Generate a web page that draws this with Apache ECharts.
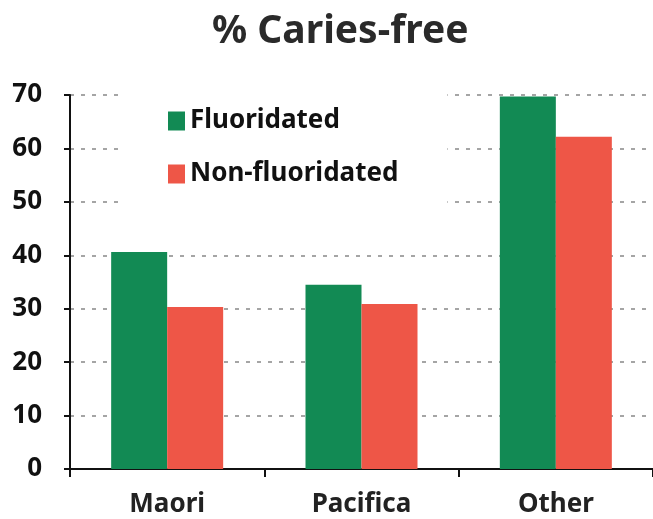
<!DOCTYPE html>
<html>
<head>
<meta charset="utf-8">
<script src="https://cdn.jsdelivr.net/npm/echarts@6/dist/echarts.min.js"></script>
<style>
  html, body { margin: 0; padding: 0; background: #fff; }
  #chart { width: 653px; height: 519px; }
</style>
</head>
<body>
<div id="chart"></div>
<script>
// 数据
var categories = ['Maori', 'Pacifica', 'Other'];
var fluoridated = [40.6, 34.5, 69.7];
var nonFluoridated = [30.3, 30.9, 62.2];
var yTicks = [0, 10, 20, 30, 40, 50, 60, 70];

var myChart = echarts.init(document.getElementById('chart'));
myChart.setOption({
    animation: false,
    title: {
        text: '% Caries-free',
        left: 207,
        top: 7,
        textStyle: {
            color: '#2a2a2a',
            fontSize: 39,
            fontWeight: 'bold',
            fontFamily: 'Noto Sans'
        }
    },
    legend: {
        orient: 'vertical',
        left: 118,
        top: 86,
        icon: 'rect',
        itemWidth: 17,
        itemHeight: 19,
        itemGap: 27,
        padding: [22, 49, 27, 50],
        backgroundColor: '#fff',
        textStyle: {
            color: '#111',
            fontSize: 26,
            fontWeight: 'bold',
            fontFamily: 'Noto Sans'
        },
        data: ['Fluoridated', 'Non-fluoridated']
    },
    grid: {
        left: 70,
        right: -2,
        top: 95,
        bottom: 50,
        containLabel: false
    },
    xAxis: {
        type: 'category',
        data: categories,
        axisLine: { lineStyle: { color: '#111', width: 2 } },
        axisTick: { show: true, length: 8, lineStyle: { color: '#111', width: 2 } },
        axisLabel: {
            margin: 23,
            color: '#222',
            fontSize: 26,
            fontWeight: 'bold',
            fontFamily: 'Noto Sans'
        }
    },
    yAxis: {
        type: 'value',
        min: 0,
        max: 70,
        interval: 10,
        axisLine: { show: true, lineStyle: { color: '#111', width: 2 } },
        axisTick: { show: true, length: 6, lineStyle: { color: '#111', width: 2 } },
        axisLabel: {
            margin: 28,
            color: '#111',
            fontSize: 26,
            fontWeight: 'bold',
            fontFamily: 'Noto Sans',
            formatter: function (v) { return yTicks.indexOf(v) >= 0 ? String(v) : ''; }
        },
        splitLine: {
            show: true,
            lineStyle: { color: '#888', width: 1.5, type: [4, 7] }
        }
    },
    series: [
        {
            name: 'Fluoridated',
            type: 'bar',
            barWidth: 56,
            barGap: 0,
            itemStyle: { color: '#128a54' },
            data: fluoridated
        },
        {
            name: 'Non-fluoridated',
            type: 'bar',
            barWidth: 56,
            barGap: 0,
            itemStyle: { color: '#ee5647' },
            data: nonFluoridated
        }
    ]
});
</script>
</body>
</html>
